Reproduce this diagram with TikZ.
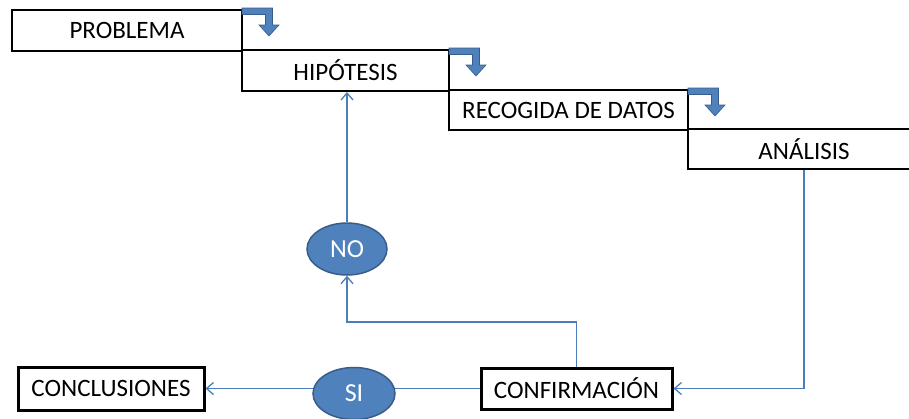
\documentclass[tikz,border=0pt]{standalone}
\usepackage{fontspec}
\setmainfont{Carlito}
\usetikzlibrary{shapes.geometric,arrows.meta,backgrounds}
\definecolor{accent}{HTML}{4F81BD}
\definecolor{accentdark}{HTML}{385D8A}
\definecolor{connblue}{HTML}{4A7EBB}
\tikzset{
  stepbox/.style={draw=black,line width=2pt,inner sep=0pt,
    font=\fontsize{25}{29}\selectfont},
  endbox/.style={draw=black,line width=3pt,inner sep=0pt,
    font=\fontsize{25}{29}\selectfont},
  decision/.style={ellipse,fill=accent,draw=accentdark,line width=1.5pt,
    inner sep=0pt,minimum width=80pt,minimum height=52pt,text=white,
    font=\fontsize{26}{30}\selectfont},
  conn/.style={draw=connblue,line width=1.6pt},
  connarrow/.style={conn,-{Straight Barb[length=7pt,width=12pt,line width=1.3pt]}},
  bentarrow/.pic={
    \filldraw[fill=accent,draw=accentdark,line width=0.6pt]
      (-1,1) -- (29.5,1) -- (29.5,-16) -- (36,-16) -- (26,-27) -- (16,-16)
      -- (22.5,-16) -- (22.5,-5.5) -- (-1,-5.5) -- cycle;
  }
}
\begin{document}
\begin{tikzpicture}[x=1pt,y=1pt]
\clip (0,0) rectangle (909,-418);

\node[stepbox,minimum width=230pt,minimum height=41pt] (prob) at (127,-30.5) {PROBLEMA};
\node[stepbox,minimum width=207pt,minimum height=41pt] (hip) at (345.5,-70.5) {HIPÓTESIS};
\node[stepbox,minimum width=239pt,minimum height=40pt] (rec) at (568.5,-110) {RECOGIDA DE DATOS};
\node[stepbox,minimum width=232pt,minimum height=40pt] (ana) at (804,-149) {ANÁLISIS};

\pic at (prob.north east) {bentarrow};
\pic at (hip.north east) {bentarrow};
\pic at (rec.north east) {bentarrow};

\node[endbox,minimum width=186pt,minimum height=43pt] (conc) at (111,-388.5) {CONCLUSIONES};
\node[endbox,minimum width=191pt,minimum height=41pt] (conf) at (576.5,-388.5) {CONFIRMACIÓN};

\node[decision] (no) at (347,-249) {NO};
\node[decision,minimum width=82pt] (si) at (354,-393.5) {SI};

\coordinate (k) at (576.5,-322);

\begin{scope}[on background layer]
  \fill[white] (0,0) rectangle (909,-418);
  \draw[connarrow] (ana.south) |- (conf.east);
  \draw[connarrow] (conf.north) -- (k) -| (no.south);
  \draw[connarrow] (no.north) -- (no.north |- hip.south);
  \draw[conn] (conf.west) -- (conf.west -| si.center);
  \draw[connarrow] (conc.east -| si.center) -- (conc.east);
\end{scope}
\end{tikzpicture}
\end{document}
